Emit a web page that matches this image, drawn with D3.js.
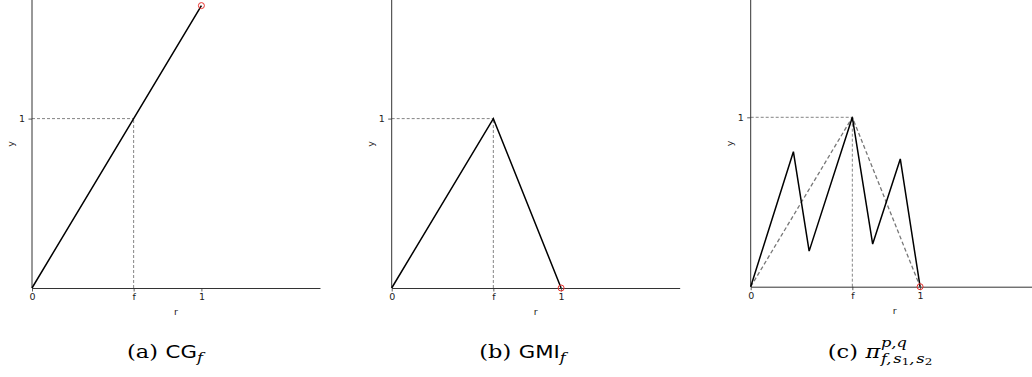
<!DOCTYPE html>
<html>
<head>
<meta charset="utf-8">
<script src="https://cdn.jsdelivr.net/npm/d3@7"></script>
<style>
  body { margin: 0; background: #fff; }
  svg { display: block; }
</style>
</head>
<body>
<script>
const width = 1032;
const height = 377;

const lineColor = "#000";
const guideColor = "#777";
const markColor = "#e8322f";

const sansFont = "'DejaVu Sans', sans-serif";
const serifFont = "'DejaVu Serif', serif";

// tick positions and labels
const xTickValues = [0, 0.6, 1];
const xTickLabels = ["0", "f", "1"];
const yTickValues = [1];
const yTickLabels = ["1"];

// f value and the three functions
const fValue = 0.6;

const cgR = [0, 0.6, 1];
const cgY = [0, 1, 1.667];

const gmiR = [0, 0.6, 1];
const gmiY = [0, 1, 0];

const piR = [0, 0.252, 0.345, 0.6, 0.72, 0.883, 1];
const piY = [0, 0.797, 0.21, 1, 0.252, 0.754, 0];

// dashed reference triangle in panel (c)
const refR = [0, 0.6, 1];
const refY = [0, 1, 0];

// open red marker at r = 1
const markR = [1, 1, 1];
const markY = [1.667, 0, 0];

const svg = d3.select("body")
  .append("svg")
  .attr("width", width)
  .attr("height", height);

const panels = [
  {left: 32, bottom: 288, r: cgR, y: cgY, ref: false},
  {left: 391.7, bottom: 288, r: gmiR, y: gmiY, ref: false},
  {left: 750.7, bottom: 286.7, r: piR, y: piY, ref: true},
];

const unit = 169.4;

panels.forEach(function (p, i) {
  const x = d3.scaleLinear().domain([0, 1.7]).range([p.left, p.left + 1.7 * unit]);
  const y = d3.scaleLinear().domain([0, 1]).range([p.bottom, p.bottom - unit]);
  const g = svg.append("g");

  // dashed guides to (f, 1)
  g.append("line")
    .attr("x1", x(0)).attr("x2", x(fValue))
    .attr("y1", y(1)).attr("y2", y(1))
    .attr("stroke", guideColor).attr("stroke-width", 0.9)
    .attr("stroke-dasharray", "3,2");
  g.append("line")
    .attr("x1", x(fValue)).attr("x2", x(fValue))
    .attr("y1", y(0)).attr("y2", y(1))
    .attr("stroke", guideColor).attr("stroke-width", 0.9)
    .attr("stroke-dasharray", "3,2");

  const line = d3.line()
    .x(function (d) { return x(d[0]); })
    .y(function (d) { return y(d[1]); });

  if (p.ref) {
    g.append("path")
      .attr("d", line(d3.zip(refR, refY)))
      .attr("fill", "none")
      .attr("stroke", guideColor)
      .attr("stroke-width", 1.3)
      .attr("stroke-dasharray", "4,2.5");
  }

  // x axis
  const xAxis = d3.axisBottom(x)
    .tickValues(xTickValues)
    .tickFormat(function (d, k) { return xTickLabels[k]; })
    .tickSizeInner(3.5)
    .tickSizeOuter(0)
    .tickPadding(2);
  const gx = g.append("g")
    .attr("transform", "translate(0," + p.bottom + ")")
    .call(xAxis);

  // y axis
  const yAxis = d3.axisLeft(y)
    .tickValues(yTickValues)
    .tickFormat(function (d, k) { return yTickLabels[k]; })
    .tickSizeInner(3.5)
    .tickSizeOuter(0)
    .tickPadding(3.5);
  const gy = g.append("g")
    .attr("transform", "translate(" + p.left + ",0)")
    .call(yAxis);
  gy.select(".domain").attr("d", "M0," + p.bottom + "V-2");

  [gx, gy].forEach(function (a) {
    a.attr("font-family", null).attr("font-size", null);
    a.select(".domain").attr("stroke", "#333").attr("stroke-width", 1);
    a.selectAll(".tick line").attr("stroke", "#333").attr("stroke-width", 0.8);
    a.selectAll(".tick text")
      .attr("fill", "#222")
      .style("font-family", sansFont)
      .style("font-size", "9.5px");
  });

  // function line
  g.append("path")
    .attr("d", line(d3.zip(p.r, p.y)))
    .attr("fill", "none")
    .attr("stroke", lineColor)
    .attr("stroke-width", 1.5);

  // open marker
  g.append("circle")
    .attr("cx", x(markR[i]))
    .attr("cy", y(markY[i]))
    .attr("r", 3)
    .attr("fill", "none")
    .attr("stroke", markColor)
    .attr("stroke-width", 1);

  // axis labels
  g.append("text")
    .text("r")
    .attr("x", (x(0) + x(1.7)) / 2)
    .attr("y", p.bottom + 27)
    .attr("text-anchor", "middle")
    .attr("fill", "#222")
    .style("font-family", sansFont)
    .style("font-size", "9.5px");
  g.append("text")
    .text("y")
    .attr("transform", "translate(" + (p.left - 18) + "," + (p.bottom / 2) + ") rotate(-90)")
    .attr("text-anchor", "middle")
    .attr("fill", "#222")
    .style("font-family", sansFont)
    .style("font-size", "9.5px");
});

// captions: pieces laid out left to right, then centred and widened
const captionBaseline = 357.5;
const captionStretch = 1.25;

function caption(cx, pieces) {
  const outer = svg.append("g");
  const g = outer.append("g");
  let cursor = 0, saved = 0, far = 0;
  pieces.forEach(function (s) {
    if (s.back) cursor = saved;
    const t = g.append("text")
      .text(s.text)
      .attr("x", cursor)
      .attr("y", s.dy || 0)
      .attr("fill", "#000")
      .style("font-family", s.font || serifFont)
      .style("font-size", (s.size || 18) + "px")
      .style("font-style", s.italic ? "italic" : "normal");
    cursor += t.node().getComputedTextLength() + (s.gap || 0);
    if (s.mark) saved = cursor;
    far = Math.max(far, cursor);
  });
  outer.attr("transform", "translate(" + (cx - captionStretch * far / 2) + "," + captionBaseline + ")");
  g.attr("transform", "scale(" + captionStretch + ",1)");
}

caption(165, [
  {text: "(a)", gap: 6},
  {text: "CG", font: sansFont, size: 17},
  {text: "f", italic: true, size: 13, dy: 4.5}
]);
caption(522.5, [
  {text: "(b)", gap: 6},
  {text: "GMI", font: sansFont, size: 17},
  {text: "f", italic: true, size: 13, dy: 4.5}
]);
caption(880, [
  {text: "(c)", gap: 6},
  {text: "π", italic: true, mark: true, gap: 0.5},
  {text: "p,q", italic: true, size: 13, dy: -10.5},
  {text: "f,", italic: true, size: 13, dy: 5.5, back: true, gap: 1.5},
  {text: "s", italic: true, size: 13, dy: 5.5},
  {text: "1", size: 9.5, dy: 7.5},
  {text: ",", italic: true, size: 13, dy: 5.5, gap: 1.5},
  {text: "s", italic: true, size: 13, dy: 5.5},
  {text: "2", size: 9.5, dy: 7.5}
]);
</script>
</body>
</html>
